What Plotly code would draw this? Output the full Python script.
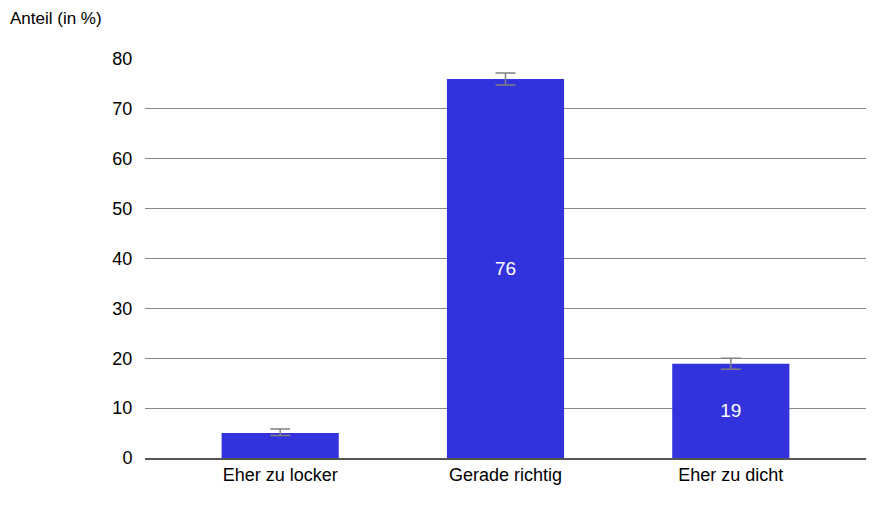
import plotly.graph_objects as go

categories = ["Eher zu locker", "Gerade richtig", "Eher zu dicht"]
values = [5.0, 76.0, 18.9]
err_plus = [0.8, 1.2, 1.1]
err_minus = [0.5, 1.2, 1.1]
labels = ["", "76", "19"]

fig = go.Figure(go.Bar(
    x=categories, y=values, width=0.52,
    marker=dict(color="#3333DD", line=dict(width=0)),
    text=labels, textposition="inside", insidetextanchor="middle",
    textfont=dict(color="white", size=19),
    error_y=dict(type="data", array=err_plus, arrayminus=err_minus,
                 color="#808080", thickness=1.5, width=10),
))
# page body adds 8px margin, so offsets are shifted by 8
fig.update_layout(
    width=860, height=510, plot_bgcolor="white", paper_bgcolor="white",
    font=dict(family="Liberation Sans, Arial, sans-serif", size=18, color="black"),
    margin=dict(l=137, r=2, t=50, b=60, autoexpand=False),
    showlegend=False,
    title=dict(text="Anteil (in %)", xref="container", yref="container",
               x=2/860, y=1 - 10/510, xanchor="left", yanchor="middle",
               font=dict(size=17)),
)
fig.update_yaxes(range=[0, 80.2], dtick=10, gridcolor="#888888", gridwidth=1,
                 zeroline=False, showline=False, ticks="outside", ticklen=8,
                 tickcolor="white", automargin=False)
fig.update_xaxes(range=[-0.6, 2.6], showline=True, linecolor="#555555",
                 linewidth=1.5, ticks="", automargin=False)
fig.write_html("out.html")
